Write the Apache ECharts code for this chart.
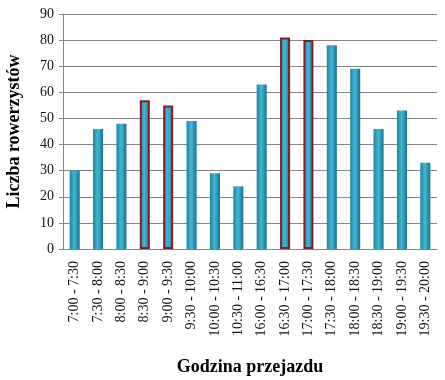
<!DOCTYPE html>
<html><head><meta charset="utf-8">
<script src="https://cdn.jsdelivr.net/npm/echarts@6/dist/echarts.min.js"></script>
<style>html,body{margin:0;padding:0;background:#fff}#c{width:445px;height:380px}</style>
</head><body><div id="c"></div>
<script>
var categories = ['7:00 - 7:30','7:30 - 8:00','8:00 - 8:30','8:30 - 9:00','9:00 - 9:30','9:30 - 10:00','10:00 - 10:30','10:30 - 11:00','16:00 - 16:30','16:30 - 17:00','17:00 - 17:30','17:30 - 18:00','18:00 - 18:30','18:30 - 19:00','19:00 - 19:30','19:30 - 20:00'];
var values = [30, 46, 48, 57, 55, 49, 29, 24, 63, 81, 80, 78, 69, 46, 53, 33];
var highlighted = [false,false,false,true,true,false,false,false,false,true,true,false,false,false,false,false];
var yTicks = [0,10,20,30,40,50,60,70,80,90];

var grad = new echarts.graphic.LinearGradient(0,0,1,0,[
  {offset:0,color:'#23819a'},
  {offset:0.45,color:'#3fb6d6'},
  {offset:0.6,color:'#36a8c8'},
  {offset:1,color:'#1c6f86'}
]);
var data = values.map(function(v,i){
  var o = {value:v, itemStyle:{color:grad}};
  if (highlighted[i]) { o.itemStyle.borderColor = '#8c1c24'; o.itemStyle.borderWidth = 2; }
  return o;
});
var chart = echarts.init(document.getElementById('c'), null, {renderer:'canvas'});
chart.setOption({
  animation:false,
  grid:{left:63, right:8, top:14, bottom:131, containLabel:false, outerBoundsMode:'none'},
  xAxis:{
    type:'category', data:categories,
    name:'Godzina przejazdu', nameLocation:'middle', nameGap:109,
    nameTextStyle:{fontFamily:'Liberation Serif', fontWeight:'bold', fontSize:18, color:'#000'},
    axisLine:{lineStyle:{color:'#868686'}},
    axisTick:{show:false},
    axisLabel:{rotate:90, interval:0, fontFamily:'Liberation Serif', fontSize:14, color:'#111', margin:12}
  },
  yAxis:{
    type:'value', min:0, max:90, interval:10,
    name:'Liczba rowerzystów', nameLocation:'middle', nameGap:40,
    nameTextStyle:{fontFamily:'Liberation Serif', fontWeight:'bold', fontSize:18, color:'#000'},
    axisLine:{show:true, lineStyle:{color:'#868686'}},
    axisTick:{show:true, length:4, lineStyle:{color:'#868686'}},
    axisLabel:{fontFamily:'Liberation Serif', fontSize:14, color:'#111', margin:9,
      formatter:function(v){ return yTicks.indexOf(v) >= 0 ? String(v) : ''; }},
    splitLine:{lineStyle:{color:'#868686'}}
  },
  series:[{
    type:'bar', data:data, barWidth:'43%'
  }]
});
</script></body></html>
